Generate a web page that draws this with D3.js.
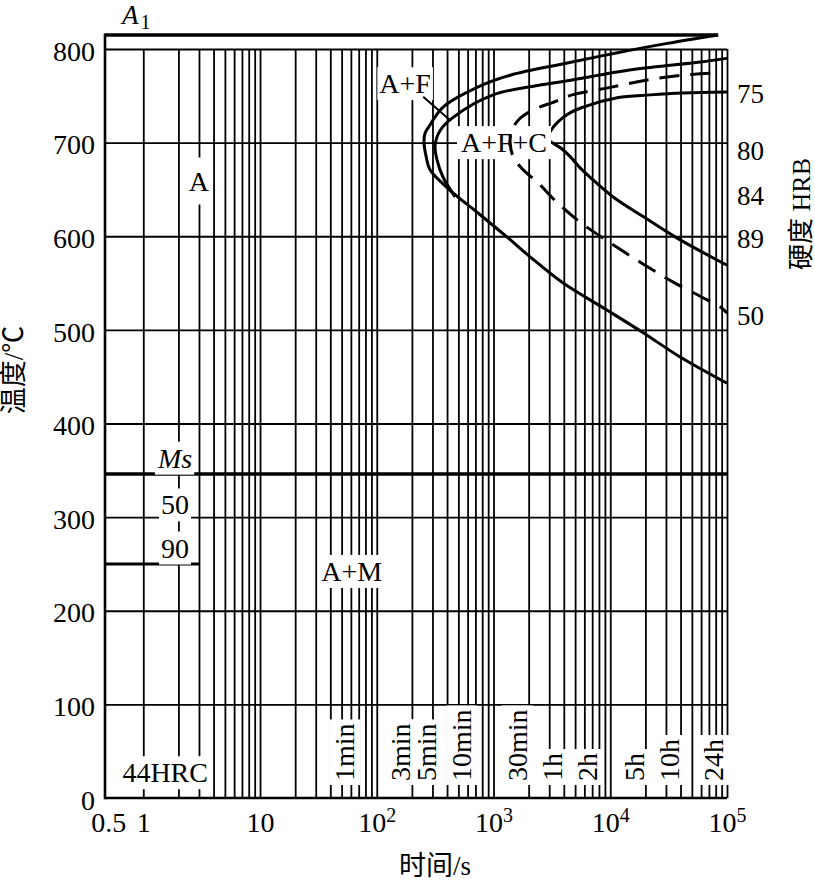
<!DOCTYPE html>
<html><head><meta charset="utf-8">
<script src="https://cdn.jsdelivr.net/npm/d3@7"></script>
<style>
body{margin:0;background:#fff}
svg{display:block}
text{font-family:"Liberation Serif","Times New Roman","Noto Sans CJK SC",serif;fill:#000}
</style>
</head><body>
<svg id="chart" width="815" height="880"></svg>
<script>
// ---------- data ----------
const xTickValues = [0.5, 1, 10, 100, 1000, 10000, 100000];
const xTickBase   = ["0.5", "1", "10", "10", "10", "10", "10"];
const xTickSup    = ["", "", "", "2", "3", "4", "5"];
const yTickValues = [0, 100, 200, 300, 400, 500, 600, 700, 800];
const timeMarkSeconds = [60, 180, 300, 600, 1800, 3600, 7200, 18000, 36000, 86400];
const timeMarkLabels  = ["1min", "3min", "5min", "10min", "30min", "1h", "2h", "5h", "10h", "24h"];
const A1Temp = 815;
const MsTemp = 346;
const M90Temp = 250;
const M90EndTime = 3;
// transformation curves: [time s, temperature °C]
const curveOuter = [[84000,815],[30800,806],[11500,796],[4280,785],[1390,772],[724,759],[370,738],[286,719],[259,710],[254,700],[265,685],[286,671],[425,649],[768,623],[1310,599],[2060,578],[3950,550],[9420,521],[19150,497],[39700,471],[100000,443]];
const curveInner = [[100000,790],[58950,786],[15710,778],[4280,766],[2400,761],[993,751],[451,727],[349,713],[316,697],[329,681],[370,663],[469,642]];
const curveDashed = [[71800,774],[42190,772],[20710,767],[9984,759],[4718,751],[3243,743],[2364,737],[1690,726],[1420,712],[1388,700],[1473,685],[1795,671],[2364,658],[3509,636],[5523,615],[9984,593],[18770,571],[34610,551],[67730,532],[91040,523],[100000,518]];
const curveRight = [[100000,754],[42190,753],[22000,751],[11470,748],[5862,738],[4277,730],[3100,713],[2939,704],[3795,694],[4538,685],[5523,673],[6730,663],[10590,642],[19150,621],[37430,598],[100000,569]];
const hardnessLabels = ["75", "80", "84", "89", "50"];
const hardnessTemps  = [752, 691, 643, 597, 515];
const regionLabels = ["A", "A+F", "A+F+C", "A+M", "Ms", "50", "90", "44HRC"];
const regionTimes  = [3, 175, 1230, 61, 1.87, 1.87, 1.87, 1.54];
const regionTemps  = [659, 763, 700, 242, 363, 313, 267, 27];
const leaderAF = [[250, 749], [425, 724]];

// ---------- scales ----------
const svg = d3.select("#chart");
const x = d3.scaleLog().domain([0.47, 100000]).range([105, 727]);
const y = d3.scaleLinear().domain([0, 800]).range([798, 49]);
const gridTimes = [];
for (let k = 0; k < 5; k++) for (let m = 1; m < 10; m++) gridTimes.push(m * Math.pow(10, k));
gridTimes.push(100000);

// ---------- grid ----------
const vg = svg.append("g").attr("transform", `translate(0,${y(0)})`)
  .call(d3.axisBottom(x).tickValues(gridTimes).tickSize(-(y(0) - y(800))).tickFormat(""));
vg.select(".domain").remove();
vg.selectAll("line").attr("stroke", "#000").attr("stroke-width", 1.8);

const hg = svg.append("g").attr("transform", `translate(${x.range()[0]},0)`)
  .call(d3.axisLeft(y).tickValues(yTickValues.filter(v => v > 0)).tickSize(-(x.range()[1] - x.range()[0])).tickFormat(""));
hg.select(".domain").remove();
hg.selectAll("line").attr("stroke", "#000").attr("stroke-width", 1.8);

// frame: left axis up to A1, bottom axis
svg.append("line").attr("x1", x.range()[0]).attr("x2", x.range()[0])
  .attr("y1", y(A1Temp) - 1.5).attr("y2", y(0) + 1.2).attr("stroke", "#000").attr("stroke-width", 2.6);
svg.append("line").attr("x1", x.range()[0]).attr("x2", x.range()[1])
  .attr("y1", y(0)).attr("y2", y(0)).attr("stroke", "#000").attr("stroke-width", 2.6);

// ---------- axis labels ----------
const ya = svg.append("g").attr("transform", `translate(${x.range()[0]},0)`)
  .call(d3.axisLeft(y).tickValues(yTickValues).tickSize(0).tickPadding(10));
ya.select(".domain").remove();
ya.selectAll("text").attr("font-size", 28).attr("font-family", "Liberation Serif").attr("dy", "0.4em");

const xa = svg.append("g").attr("transform", `translate(0,${y(0)})`)
  .call(d3.axisBottom(x).tickValues(xTickValues).tickSize(0).tickFormat(""));
xa.select(".domain").remove();
xa.selectAll("text").each(function(d) {
  const i = xTickValues.indexOf(d);
  const t = d3.select(this).attr("y", 34).attr("dy", null)
    .attr("font-size", 28).attr("font-family", "Liberation Serif");
  t.append("tspan").text(xTickBase[i]);
  if (xTickSup[i]) t.append("tspan").attr("font-size", 20).attr("dy", -10).text(xTickSup[i]);
});

// ---------- special lines ----------
svg.append("line").attr("x1", x.range()[0]).attr("x2", x(84000))
  .attr("y1", y(A1Temp)).attr("y2", y(A1Temp)).attr("stroke", "#000").attr("stroke-width", 3.4);
svg.append("line").attr("x1", x.range()[0]).attr("x2", x.range()[1])
  .attr("y1", y(MsTemp)).attr("y2", y(MsTemp)).attr("stroke", "#000").attr("stroke-width", 3.4);
svg.append("line").attr("x1", x.range()[0]).attr("x2", x(M90EndTime))
  .attr("y1", y(M90Temp)).attr("y2", y(M90Temp)).attr("stroke", "#000").attr("stroke-width", 3);

// ---------- curves (solid) ----------
const line = d3.line().x(d => x(d[0])).y(d => y(d[1])).curve(d3.curveCatmullRom.alpha(0.5));
[curveOuter, curveInner, curveRight].forEach(c => {
  svg.append("path").attr("d", line(c)).attr("fill", "none").attr("stroke", "#000").attr("stroke-width", 3);
});

// ---------- labels with white backgrounds ----------
function labelBox(g, pad) {
  const t = g.select("text").node();
  const b = t.getBBox();
  g.insert("rect", "text").attr("x", b.x - pad[0]).attr("y", b.y - pad[1])
    .attr("width", b.width + 2 * pad[0]).attr("height", b.height + 2 * pad[1]).attr("fill", "#fff");
}
regionLabels.forEach((lab, i) => {
  const g = svg.append("g").attr("transform", `translate(${x(regionTimes[i])},${y(regionTemps[i])})`);
  const t = g.append("text").attr("text-anchor", "middle").attr("dominant-baseline", "central")
    .attr("font-size", 28).text(lab);
  if (lab === "Ms") t.attr("font-style", "italic");
  labelBox(g, [lab === "A+F+C" ? 4 : 2, lab === "A" ? 8 : 1]);
});

timeMarkSeconds.forEach((s, i) => {
  const g = svg.append("g").attr("transform", `translate(${x(s) - 6},781) rotate(-90)`);
  g.append("text").attr("text-anchor", "start").attr("dominant-baseline", "central")
    .attr("font-size", 28).text(timeMarkLabels[i]);
  labelBox(g, [4, 0]);
});

// dashed curve on top
svg.append("path").attr("d", line(curveDashed)).attr("fill", "none").attr("stroke", "#000")
  .attr("stroke-width", 3).attr("stroke-dasharray", "20,11");
// leader line for A+F
svg.append("path").attr("d", d3.line().x(d => x(d[0])).y(d => y(d[1]))(leaderAF))
  .attr("stroke", "#000").attr("stroke-width", 2);

// A1 label
const a1 = svg.append("text").attr("x", 122).attr("y", y(A1Temp) - 11).attr("font-size", 27);
a1.append("tspan").attr("font-style", "italic").text("A");
a1.append("tspan").attr("font-size", 20).attr("dy", 5).attr("dx", 2).text("1");

// right hardness labels
hardnessLabels.forEach((h, i) => {
  svg.append("text").attr("x", x.range()[1] + 10).attr("y", y(hardnessTemps[i]))
    .attr("dominant-baseline", "central").attr("font-size", 27).text(h);
});

// axis titles
svg.append("text").attr("transform", "translate(14,370) rotate(-90)")
  .attr("text-anchor", "middle").attr("dominant-baseline", "central").attr("font-size", 27).text("温度/℃");
svg.append("text").attr("transform", "translate(801,214) rotate(-90)")
  .attr("text-anchor", "middle").attr("dominant-baseline", "central").attr("font-size", 26).text("硬度 HRB");
svg.append("text").attr("x", 435).attr("y", 866)
  .attr("text-anchor", "middle").attr("dominant-baseline", "central").attr("font-size", 27).text("时间/s");
</script>
</body></html>
